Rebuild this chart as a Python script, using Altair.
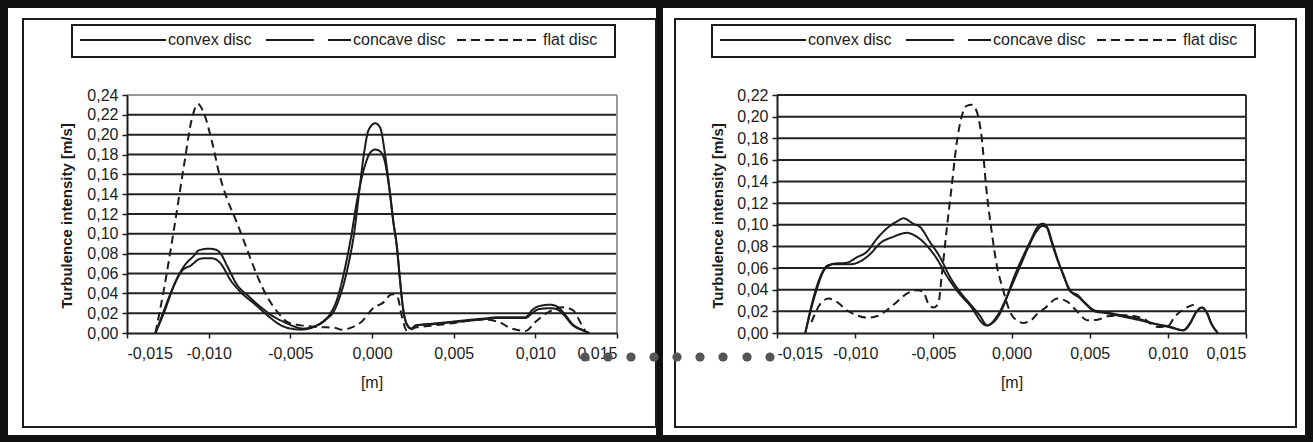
import altair as alt
import pandas as pd

FONT = "Liberation Sans"
INK = "#1c1c1c"

series_names = ["convex disc", "concave disc", "flat disc"]
x_ticks = [-0.015, -0.010, -0.005, 0.0, 0.005, 0.010, 0.015]
y_ticks_left = [0.00, 0.02, 0.04, 0.06, 0.08, 0.10, 0.12, 0.14, 0.16, 0.18, 0.20, 0.22, 0.24]
y_ticks_right = [0.00, 0.02, 0.04, 0.06, 0.08, 0.10, 0.12, 0.14, 0.16, 0.18, 0.20, 0.22]

# ---------------- left chart ----------------
left_convex_x = [-0.01326, -0.0127, -0.01213, -0.01152, -0.0109, -0.01059, -0.0100, -0.00957, -0.00926,
                 -0.00885, -0.00824, -0.00762, -0.0068, -0.00598, -0.00537, -0.00475, -0.00424, -0.0035,
                 -0.0029, -0.0023, -0.0019, -0.0015, -0.0011, -0.0008, -0.0005, -0.0002, 0.0002, 0.0005,
                 0.0008, 0.0011, 0.0013, 0.00153, 0.0017, 0.0019, 0.0021, 0.0024, 0.0027, 0.0037, 0.0047,
                 0.0057, 0.0068, 0.0078, 0.0094, 0.0098, 0.0102, 0.0109, 0.0113, 0.0117, 0.0123, 0.0129, 0.0133]
left_convex_y = [0.0, 0.022, 0.048, 0.067, 0.078, 0.0835, 0.085, 0.084, 0.080, 0.067, 0.048, 0.038, 0.026,
                 0.016, 0.011, 0.0065, 0.0044, 0.0067, 0.013, 0.023, 0.040, 0.065, 0.100, 0.140, 0.180,
                 0.205, 0.2115, 0.207, 0.180, 0.141, 0.113, 0.086, 0.056, 0.025, 0.010, 0.0044, 0.0077,
                 0.0094, 0.011, 0.0128, 0.0145, 0.016, 0.016, 0.023, 0.027, 0.0285, 0.027, 0.021, 0.0085,
                 0.003, 0.0]

left_concave_x = [-0.01326, -0.0128, -0.01233, -0.01162, -0.0111, -0.01049, -0.0100, -0.00967, -0.00926,
                  -0.00865, -0.00803, -0.00721, -0.0064, -0.00557, -0.00496, -0.00434, -0.0035, -0.0027,
                  -0.0021, -0.0017, -0.0013, -0.0009, -0.0005, -0.0001, 0.0002, 0.0005, 0.0008, 0.00095,
                  0.0011, 0.0013, 0.00153, 0.0017, 0.0019, 0.0021, 0.0024, 0.0027, 0.0037, 0.0047, 0.0057,
                  0.0068, 0.0078, 0.0094, 0.0098, 0.0102, 0.0109, 0.0113, 0.0117, 0.0123, 0.0129, 0.0133]
left_concave_y = [0.0, 0.020, 0.040, 0.063, 0.068, 0.075, 0.0755, 0.075, 0.070, 0.053, 0.041, 0.0296,
                  0.0178, 0.0077, 0.0044, 0.0034, 0.0067, 0.016, 0.036, 0.062, 0.095, 0.135, 0.165, 0.182,
                  0.185, 0.183, 0.172, 0.158, 0.141, 0.113, 0.086, 0.056, 0.025, 0.010, 0.0044, 0.0077,
                  0.0088, 0.0105, 0.012, 0.0138, 0.0152, 0.0152, 0.020, 0.024, 0.025, 0.024, 0.019, 0.0077,
                  0.0027, 0.0]

left_flat_x = [-0.01326, -0.01275, -0.01213, -0.01152, -0.0110, -0.01066, -0.0103, -0.00977, -0.00936,
               -0.00885, -0.00834, -0.00762, -0.00701, -0.0064, -0.00578, -0.00516, -0.00434, -0.00332,
               -0.0023, -0.00189, -0.00127, -0.00066, 0.00014, 0.0006, 0.00123, 0.00154, 0.00184, 0.00215,
               0.00266, 0.00328, 0.0047, 0.0068, 0.0078, 0.0084, 0.0090, 0.0094, 0.0100, 0.0107, 0.0117,
               0.0123, 0.0128, 0.0131]
left_flat_y = [0.0, 0.043, 0.104, 0.168, 0.218, 0.231, 0.222, 0.191, 0.161, 0.134, 0.114, 0.083, 0.057,
               0.036, 0.021, 0.011, 0.0077, 0.006, 0.0054, 0.0034, 0.0054, 0.011, 0.026, 0.0296, 0.039,
               0.037, 0.016, 0.002, 0.0054, 0.0067, 0.0094, 0.0135, 0.011, 0.0054, 0.0027, 0.002, 0.011,
               0.020, 0.026, 0.023, 0.0094, 0.001]

# ---------------- right chart ----------------
right_convex_x = [-0.01319, -0.01266, -0.01223, -0.01181, -0.01138, -0.01053, -0.00989, -0.00926, -0.00862,
                  -0.00798, -0.00734, -0.00691, -0.00628, -0.00585, -0.00521, -0.00457, -0.00394, -0.0033,
                  -0.00266, -0.00202, -0.00155, -0.00096, -0.00032, 0.00017, 0.00081, 0.00124, 0.00167,
                  0.00199, 0.0022, 0.00252, 0.00295, 0.00338, 0.0037, 0.00423, 0.00477, 0.0053, 0.00594,
                  0.00701, 0.00808, 0.00915, 0.01021, 0.01096, 0.01139, 0.01182, 0.01218, 0.01246, 0.01278,
                  0.0132]
right_convex_y = [0.0, 0.033, 0.052, 0.062, 0.064, 0.065, 0.070, 0.075, 0.087, 0.0966, 0.103, 0.106, 0.101,
                  0.098, 0.084, 0.070, 0.052, 0.038, 0.027, 0.016, 0.007, 0.0148, 0.033, 0.052, 0.073,
                  0.086, 0.098, 0.101, 0.0997, 0.086, 0.067, 0.052, 0.0395, 0.035, 0.027, 0.021, 0.0194,
                  0.0164, 0.0133, 0.0086, 0.0056, 0.0025, 0.0086, 0.0194, 0.0235, 0.0194, 0.0086, 0.0]

right_concave_x = [-0.01319, -0.01255, -0.01191, -0.01138, -0.01032, -0.00957, -0.00904, -0.0084, -0.00755,
                   -0.0067, -0.00606, -0.00543, -0.00479, -0.00415, -0.00351, -0.00266, -0.0016, -0.00074,
                   -0.00011, 0.0005, 0.0011, 0.0016, 0.0020, 0.0023, 0.0026, 0.0030, 0.0034, 0.0038, 0.0043,
                   0.0048, 0.0053, 0.0060, 0.0070, 0.0080, 0.0090, 0.0102, 0.0110, 0.0114, 0.0118, 0.01218,
                   0.0125, 0.0128, 0.0132]
right_concave_y = [0.0, 0.036, 0.0596, 0.0636, 0.0636, 0.067, 0.073, 0.083, 0.089, 0.0926, 0.089, 0.081,
                   0.069, 0.053, 0.0395, 0.0256, 0.007, 0.018, 0.0395, 0.060, 0.080, 0.094, 0.099, 0.097,
                   0.084, 0.066, 0.050, 0.0385, 0.033, 0.026, 0.020, 0.0185, 0.0155, 0.0125, 0.009, 0.005,
                   0.0025, 0.008, 0.019, 0.0235, 0.019, 0.0086, 0.0]

right_flat_x = [-0.0128, -0.01266, -0.01223, -0.0117, -0.01117, -0.01053, -0.00989, -0.00926, -0.00862,
                -0.00798, -0.00734, -0.0067, -0.00606, -0.00564, -0.00532, -0.0050, -0.00468, -0.00447,
                -0.00415, -0.00383, -0.00351, -0.00319, -0.00287, -0.00255, -0.00223, -0.00191, -0.0016,
                -0.00128, -0.00096, -0.00053, -0.00021, 0.0001, 0.00038, 0.0007, 0.00124, 0.00167, 0.0021,
                0.00295, 0.00359, 0.00423, 0.00487, 0.00551, 0.00615, 0.00722, 0.00829, 0.00936, 0.0100,
                0.01043, 0.01107, 0.01171]
right_flat_y = [0.010, 0.0148, 0.027, 0.0318, 0.0287, 0.021, 0.0164, 0.0142, 0.0154, 0.021, 0.0287, 0.0364,
                0.0395, 0.038, 0.027, 0.0235, 0.027, 0.052, 0.095, 0.135, 0.175, 0.200, 0.210, 0.211, 0.205,
                0.181, 0.132, 0.095, 0.064, 0.0395, 0.024, 0.0148, 0.0117, 0.0093, 0.0117, 0.018, 0.0225,
                0.0318, 0.0287, 0.0194, 0.0117, 0.0123, 0.0154, 0.0164, 0.0142, 0.0056, 0.0062, 0.0148,
                0.0225, 0.0265]

# decorative connector dots between the two panels (page pixels)
connector_dots_x = [585, 608, 631, 654, 677, 700, 723, 747, 770]
connector_dots_y = 357

# ---------------- layout (page pixels) ----------------
PAGE_W, PAGE_H = 1313, 442
PLOT_H = 238
LEFT_ORIGIN = (127, 95)
LEFT_W = 490
RIGHT_ORIGIN = (777, 95)
RIGHT_W = 469


def build_df(xs_list, ys_list):
    frames = []
    for name, xs, ys in zip(series_names, xs_list, ys_list):
        assert len(xs) == len(ys), name
        frames.append(pd.DataFrame({"x": xs, "y": ys, "series": name}))
    return pd.concat(frames, ignore_index=True)


one = pd.DataFrame({"k": [0]})


def rect(origin, x0, y0, x1, y1, **kw):
    ox, oy = origin
    return alt.Chart(one).mark_rect(**kw).encode(
        x=alt.value(x0 - ox), x2=alt.value(x1 - ox),
        y=alt.value(y0 - oy), y2=alt.value(y1 - oy))


def rule(origin, x0, y0, x1, y1, **kw):
    ox, oy = origin
    return alt.Chart(one).mark_rule(**kw).encode(
        x=alt.value(x0 - ox), x2=alt.value(x1 - ox),
        y=alt.value(y0 - oy), y2=alt.value(y1 - oy))


def text(origin, x, y, s, **kw):
    ox, oy = origin
    params = dict(font=FONT, fontSize=16, color=INK, align="left", baseline="middle")
    params.update(kw)
    return alt.Chart(one).mark_text(**params).encode(
        x=alt.value(x - ox), y=alt.value(y - oy), text=alt.value(s))


def legend_layers(origin, dx):
    # dx = page x shift of this panel's legend relative to the left one
    ly = 40
    return [
        rect(origin, 72 + dx, 25, 615 + dx, 57, fillOpacity=0, stroke=INK, strokeWidth=2),
        rule(origin, 80 + dx, ly, 166 + dx, ly, color=INK, strokeWidth=2),
        text(origin, 168 + dx, ly, "convex disc"),
        rule(origin, 266 + dx, ly, 314 + dx, ly, color=INK, strokeWidth=2),
        rule(origin, 328 + dx, ly, 351 + dx, ly, color=INK, strokeWidth=2),
        text(origin, 353 + dx, ly, "concave disc"),
        rule(origin, 457 + dx, ly, 537 + dx, ly, color=INK, strokeWidth=2, strokeDash=[9, 5]),
        text(origin, 543 + dx, ly, "flat disc"),
    ]


def panel(df, y_ticks, ymax, width, origin, frame, legend_dx, ytitle, ytitle_x, xtitle_x,
          top_color, right_color, back=None, front=None):
    xscale = alt.Scale(domain=[-0.015, 0.015], nice=False, zero=False)
    yscale = alt.Scale(domain=[0, ymax], nice=False)
    xaxis = alt.Axis(
        values=x_ticks, title=None, grid=False, zindex=1,
        labelExpr="(datum.value < 0 ? '-' : '') + replace(format(abs(datum.value), '.3f'), '.', ',')",
        labelFont=FONT, labelFontSize=16, labelColor=INK, labelPadding=7,
        tickColor=INK, tickSize=5, tickWidth=1.5, domainColor=INK, domainWidth=2)
    yaxis = alt.Axis(
        values=y_ticks, title=None, grid=False, zindex=1,
        labelExpr="replace(format(datum.value, '.2f'), '.', ',')",
        labelFont=FONT, labelFontSize=16, labelColor=INK, labelPadding=4,
        tickColor=INK, tickSize=5, tickWidth=1.5, domainColor=INK, domainWidth=2)
    layers = list(back or [])
    # panel interior and thin frame
    px0, py0, px1, py1, fx0, fy0, fx1, fy1 = frame
    layers.append(rect(origin, px0, py0, px1, py1, fill="white"))
    layers.append(rect(origin, fx0, fy0, fx1, fy1, fillOpacity=0, stroke=INK, strokeWidth=2))
    layers += legend_layers(origin, legend_dx)
    # axis titles
    layers.append(text(origin, ytitle_x, 95 + PLOT_H / 2 + 2, ytitle, angle=270, align="center",
                       fontSize=15, fontWeight="bold"))
    layers.append(text(origin, xtitle_x, 383, "[m]", align="center"))
    # horizontal gridlines
    grid_df = pd.DataFrame({"y": [v for v in y_ticks if v > 0]})
    layers.append(
        alt.Chart(grid_df).mark_rule(strokeWidth=2).encode(
            y=alt.Y("y:Q", scale=yscale, axis=yaxis),
            color=alt.condition(alt.datum.y >= ymax - 1e-9, alt.value(top_color), alt.value("#222222")),
        )
    )
    # right plot border
    layers.append(rule(origin, origin[0] + width, origin[1], origin[0] + width, origin[1] + PLOT_H,
                       color=right_color, strokeWidth=2))
    # data
    lines = alt.Chart(df).mark_line(strokeWidth=2, color=INK, interpolate="monotone").encode(
        x=alt.X("x:Q", scale=xscale, axis=xaxis),
        y=alt.Y("y:Q", scale=yscale, axis=yaxis),
        detail="series:N",
        strokeDash=alt.StrokeDash("series:N", scale=alt.Scale(
            domain=series_names, range=[[1, 0], [1, 0], [8, 5]]), legend=None),
    )
    layers.append(lines)
    layers += list(front or [])
    return alt.layer(*layers).properties(width=width, height=PLOT_H)


left_df = build_df([left_convex_x, left_concave_x, left_flat_x],
                   [left_convex_y, left_concave_y, left_flat_y])
right_df = build_df([right_convex_x, right_concave_x, right_flat_x],
                    [right_convex_y, right_concave_y, right_flat_y])

# black page border, drawn by the left panel beneath everything
black_bg = [rect(LEFT_ORIGIN, 0, 0, PAGE_W, PAGE_H, fill="#111111")]

dots = [
    alt.Chart(one).mark_circle(size=85, color="#555555", opacity=1).encode(
        x=alt.value(dx - RIGHT_ORIGIN[0]), y=alt.value(connector_dots_y - RIGHT_ORIGIN[1]))
    for dx in connector_dots_x
]

left = panel(left_df, y_ticks_left, 0.24, LEFT_W, LEFT_ORIGIN,
             (8, 8, 656, 435, 23, 19, 656, 427), 0,
             "Turbulence intensity  [m/s]", 67, 372, "#999999", "#999999", back=black_bg)
right = panel(right_df, y_ticks_right, 0.22, RIGHT_W, RIGHT_ORIGIN,
              (663, 8, 1305, 435, 675, 19, 1296, 427), 640,
              "Turbulence intensity [m/s]", 718, 1012, "#222222", "#333333", front=dots)

chart = alt.hconcat(left, right, spacing=RIGHT_ORIGIN[0] - LEFT_ORIGIN[0] - LEFT_W, bounds="flush").properties(
    padding=0
).configure_view(stroke=None)

chart.save("out.html", embed_options={"renderer": "svg", "actions": False})
